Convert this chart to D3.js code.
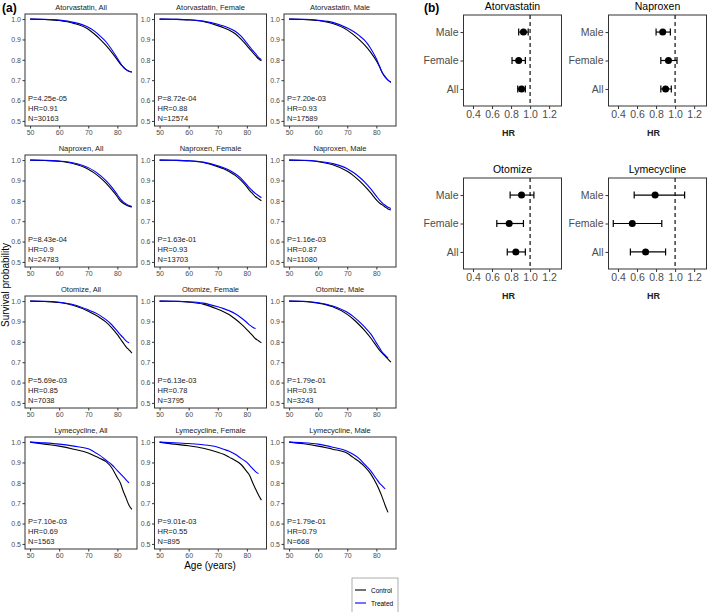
<!DOCTYPE html>
<html><head><meta charset="utf-8">
<script src="https://cdn.jsdelivr.net/npm/d3@7/dist/d3.min.js"></script>
<style>body{margin:0;background:#fff}svg{display:block;font-family:"Liberation Sans",Arial,sans-serif}</style>
</head><body><svg id="c" width="709" height="612"></svg>
<script>
// ---------- DATA ----------
const AGES = [50,55,60,65,70,72,74,76,78,80,81,82,83,84,85];
const drugs = ["Atorvastatin","Naproxen","Otomize","Lymecycline"];
const groups = ["All","Female","Male"];
// survival values per group [All, Female, Male] on AGES grid (null = curve ended)
const ctrlAtorvastatin = [
 [1.0,0.998,0.993,0.979,0.95,0.928,0.902,0.872,0.838,0.80,0.78,0.765,0.752,0.744,0.74],
 [1.0,0.999,0.996,0.988,0.968,0.958,0.945,0.928,0.902,0.87,0.853,0.836,0.82,0.805,0.795],
 [1.0,0.998,0.993,0.978,0.946,0.925,0.90,0.872,0.838,0.795,0.768,0.738,0.716,0.70,0.69]];
const trtAtorvastatin = [
 [1.0,0.999,0.995,0.984,0.96,0.942,0.918,0.89,0.852,0.808,0.785,0.765,0.752,0.744,0.74],
 [1.0,0.999,0.997,0.99,0.975,0.966,0.955,0.94,0.916,0.882,0.864,0.846,0.83,0.812,0.80],
 [1.0,0.999,0.994,0.984,0.956,0.94,0.92,0.895,0.857,0.805,0.772,0.738,0.716,0.70,0.69]];
const ctrlNaproxen = [
 [1.0,0.998,0.994,0.982,0.955,0.937,0.915,0.888,0.856,0.82,0.80,0.788,0.78,0.774,0.77],
 [1.0,0.999,0.996,0.988,0.968,0.957,0.943,0.925,0.90,0.868,0.85,0.835,0.82,0.81,0.80],
 [1.0,0.998,0.992,0.977,0.945,0.925,0.90,0.872,0.84,0.805,0.79,0.78,0.77,0.76,0.755]];
const trtNaproxen = [
 [1.0,0.999,0.995,0.986,0.963,0.947,0.926,0.90,0.868,0.83,0.81,0.795,0.785,0.777,0.772],
 [1.0,0.999,0.997,0.99,0.972,0.962,0.95,0.933,0.91,0.878,0.862,0.848,0.835,0.825,0.815],
 [1.0,0.999,0.994,0.983,0.958,0.94,0.918,0.892,0.86,0.823,0.805,0.79,0.778,0.768,0.762]];
const ctrlOtomize = [
 [1.0,0.998,0.993,0.978,0.95,0.935,0.918,0.898,0.87,0.835,0.815,0.795,0.775,0.76,0.745],
 [1.0,0.999,0.995,0.985,0.96,0.948,0.933,0.912,0.888,0.86,0.845,0.83,0.815,0.805,0.795],
 [1.0,0.998,0.99,0.972,0.935,0.912,0.885,0.855,0.82,0.78,0.76,0.745,0.73,0.715,0.70]];
const trtOtomize = [
 [1.0,0.999,0.994,0.982,0.957,0.945,0.93,0.91,0.885,0.852,0.835,0.82,0.805,0.795,null],
 [1.0,0.999,0.997,0.99,0.972,0.963,0.952,0.938,0.918,0.895,0.882,0.872,0.865,null,null],
 [1.0,0.999,0.992,0.976,0.945,0.925,0.90,0.872,0.84,0.795,0.772,0.75,0.735,0.72,null]];
const ctrlLymecycline = [
 [1.0,0.99,0.98,0.965,0.946,0.933,0.92,0.905,0.875,0.825,0.80,0.76,0.725,0.69,0.67],
 [1.0,0.99,0.982,0.97,0.95,0.94,0.925,0.91,0.89,0.855,0.835,0.80,0.77,0.74,0.715],
 [1.0,0.992,0.98,0.965,0.945,0.925,0.905,0.88,0.845,0.795,0.765,0.73,0.69,0.655,null]];
const trtLymecycline = [
 [1.0,0.996,0.99,0.98,0.967,0.952,0.935,0.912,0.89,0.86,0.845,0.83,0.815,0.80,null],
 [1.0,0.997,0.993,0.987,0.975,0.965,0.955,0.94,0.92,0.90,0.885,0.87,0.855,0.845,null],
 [1.0,0.997,0.99,0.975,0.955,0.94,0.92,0.89,0.86,0.82,0.80,0.785,0.77,null,null]];
const ctrlData = [ctrlAtorvastatin, ctrlNaproxen, ctrlOtomize, ctrlLymecycline];
const trtData = [trtAtorvastatin, trtNaproxen, trtOtomize, trtLymecycline];
const pLabels = [["4.25e-05","8.72e-04","7.20e-03"],["8.43e-04","1.63e-01","1.16e-03"],["5.69e-03","6.13e-03","1.79e-01"],["7.10e-03","9.01e-03","1.79e-01"]];
const hrLabels = [["0.91","0.88","0.93"],["0.9","0.93","0.87"],["0.85","0.78","0.91"],["0.69","0.55","0.79"]];
const nLabels = [["30163","12574","17589"],["24783","13703","11080"],["7038","3795","3243"],["1563","895","668"]];
const ageTicks = [50,60,70,80];
const survTicks = [0.5,0.6,0.7,0.8,0.9,1.0];
// forest plot: order [All, Female, Male]
const forestHR   = [[0.91,0.88,0.93],[0.90,0.93,0.87],[0.85,0.78,0.91],[0.69,0.55,0.79]];
const forestLow  = [[0.87,0.81,0.88],[0.85,0.85,0.80],[0.76,0.65,0.79],[0.53,0.35,0.57]];
const forestHigh = [[0.95,0.95,0.98],[0.96,1.02,0.95],[0.95,0.93,1.04],[0.90,0.86,1.10]];
const hrTicks = [0.4,0.6,0.8,1.0,1.2];

// ---------- DRAW ----------
const svg = d3.select("#c");
const tickCol = "#4d4d4d", borderCol = "#333";
const colX = [25,154.5,284], rowY = [14,155,296,437];
const PW = 112, PH = 112;

drugs.forEach((drug, r) => {
  groups.forEach((grp, c) => {
    const g = svg.append("g").attr("transform", `translate(${colX[c]},${rowY[r]})`);
    const x = d3.scaleLinear().domain([48.25,86.75]).range([0,PW]);
    const y = d3.scaleLinear().domain([0.475,1.025]).range([PH,0]);
    g.append("text").attr("x",PW/2).attr("y",-4).attr("text-anchor","middle")
      .attr("font-size",7.5).attr("fill","#1a1a1a").text(`${drug}, ${grp}`);
    const line = d3.line().defined(d => d[1] != null).x(d => x(d[0])).y(d => y(d[1])).curve(d3.curveMonotoneX);
    const cd = AGES.map((a,i) => [a, ctrlData[r][c][i]]);
    const td = AGES.map((a,i) => [a, trtData[r][c][i]]);
    g.append("path").attr("d", line(cd)).attr("fill","none").attr("stroke","#000").attr("stroke-width",1.1);
    g.append("path").attr("d", line(td)).attr("fill","none").attr("stroke","#0000ff").attr("stroke-width",1.1);
    const ya = g.append("g").call(d3.axisLeft(y).tickValues(survTicks).tickFormat(d3.format(".1f")).tickSize(2.5).tickPadding(1.5));
    const xa = g.append("g").attr("transform",`translate(0,${PH})`).call(d3.axisBottom(x).tickValues(ageTicks).tickSize(2.5).tickPadding(1.5));
    [ya, xa].forEach(a => {
      a.select(".domain").remove();
      a.selectAll("line").attr("stroke", borderCol);
      a.selectAll("text").attr("font-size",7).attr("fill",tickCol).attr("font-family","Liberation Sans, Arial, sans-serif");
    });
    g.append("rect").attr("width",PW).attr("height",PH).attr("fill","none").attr("stroke",borderCol).attr("stroke-width",1);
    const ann = [`P=${pLabels[r][c]}`, `HR=${hrLabels[r][c]}`, `N=${nLabels[r][c]}`];
    ann.forEach((t,i) => g.append("text").attr("x",3).attr("y",87 + i*10).attr("font-size",7.5).attr("fill","#1a1a1a").text(t));
  });
});

svg.append("text").attr("x",2).attr("y",12).attr("font-size",12).attr("font-weight","bold").text("(a)");
svg.append("text").attr("x",424).attr("y",12).attr("font-size",12).attr("font-weight","bold").text("(b)");
svg.append("text").attr("transform","translate(9,285) rotate(-90)").attr("text-anchor","middle")
  .attr("font-size",10).attr("fill","#000").text("Survival probability");
svg.append("text").attr("x",210).attr("y",569).attr("text-anchor","middle").attr("font-size",10).attr("fill","#000").text("Age (years)");

// legend
const lg = svg.append("g").attr("transform","translate(352,578)");
lg.append("rect").attr("width",46).attr("height",36).attr("fill","#fff").attr("stroke","#999").attr("stroke-width",0.8);
[["Control","#000"],["Treated","#0000ff"]].forEach((d,i) => {
  lg.append("line").attr("x1",3).attr("x2",14).attr("y1",12+i*13).attr("y2",12+i*13).attr("stroke",d[1]).attr("stroke-width",1.1);
  lg.append("text").attr("x",19).attr("y",14.5+i*13).attr("font-size",6.5).attr("fill","#000").text(d[0]);
});

// forest plots
const fX = [463.5, 608.5], fY = [15, 178];
const FW = 98, FH = 91;
drugs.forEach((drug, k) => {
  const c = k % 2, r = Math.floor(k/2);
  const g = svg.append("g").attr("transform",`translate(${fX[c]},${fY[r]})`);
  const x = d3.scaleLinear().domain([0.30,1.33]).range([0,FW]);
  const y = d3.scalePoint().domain(["Male","Female","All"]).range([0,FH]).padding(0.6);
  g.append("text").attr("x",FW/2).attr("y",-5).attr("text-anchor","middle").attr("font-size",10.5).attr("fill","#000").text(drug);
  const ya = g.append("g").call(d3.axisLeft(y).tickSize(3).tickPadding(2));
  const xa = g.append("g").attr("transform",`translate(0,${FH})`).call(d3.axisBottom(x).tickValues(hrTicks).tickFormat(d3.format(".1f")).tickSize(3).tickPadding(2));
  [ya, xa].forEach(a => {
    a.select(".domain").remove();
    a.selectAll("line").attr("stroke", borderCol);
    a.selectAll("text").attr("font-size",10.5).attr("fill",tickCol).attr("font-family","Liberation Sans, Arial, sans-serif");
  });
  g.append("rect").attr("width",FW).attr("height",FH).attr("fill","none").attr("stroke",borderCol).attr("stroke-width",1);
  g.append("line").attr("x1",x(1)).attr("x2",x(1)).attr("y1",0).attr("y2",FH)
    .attr("stroke","#222").attr("stroke-width",1.3).attr("stroke-dasharray","4,3");
  groups.forEach((grp, i) => {
    const yy = y(grp);
    g.append("line").attr("x1",x(forestLow[k][i])).attr("x2",x(forestHigh[k][i])).attr("y1",yy).attr("y2",yy).attr("stroke","#000").attr("stroke-width",1.2);
    [forestLow[k][i], forestHigh[k][i]].forEach(v =>
      g.append("line").attr("x1",x(v)).attr("x2",x(v)).attr("y1",yy-3.5).attr("y2",yy+3.5).attr("stroke","#000").attr("stroke-width",1.2));
    g.append("circle").attr("cx",x(forestHR[k][i])).attr("cy",yy).attr("r",3.5).attr("fill","#000");
  });
  g.append("text").attr("x",FW/2 - 4).attr("y",FH + 30).attr("text-anchor","middle").attr("font-size",9)
    .attr("font-weight","bold").attr("fill","#222").text("HR");
});
</script></body></html>
